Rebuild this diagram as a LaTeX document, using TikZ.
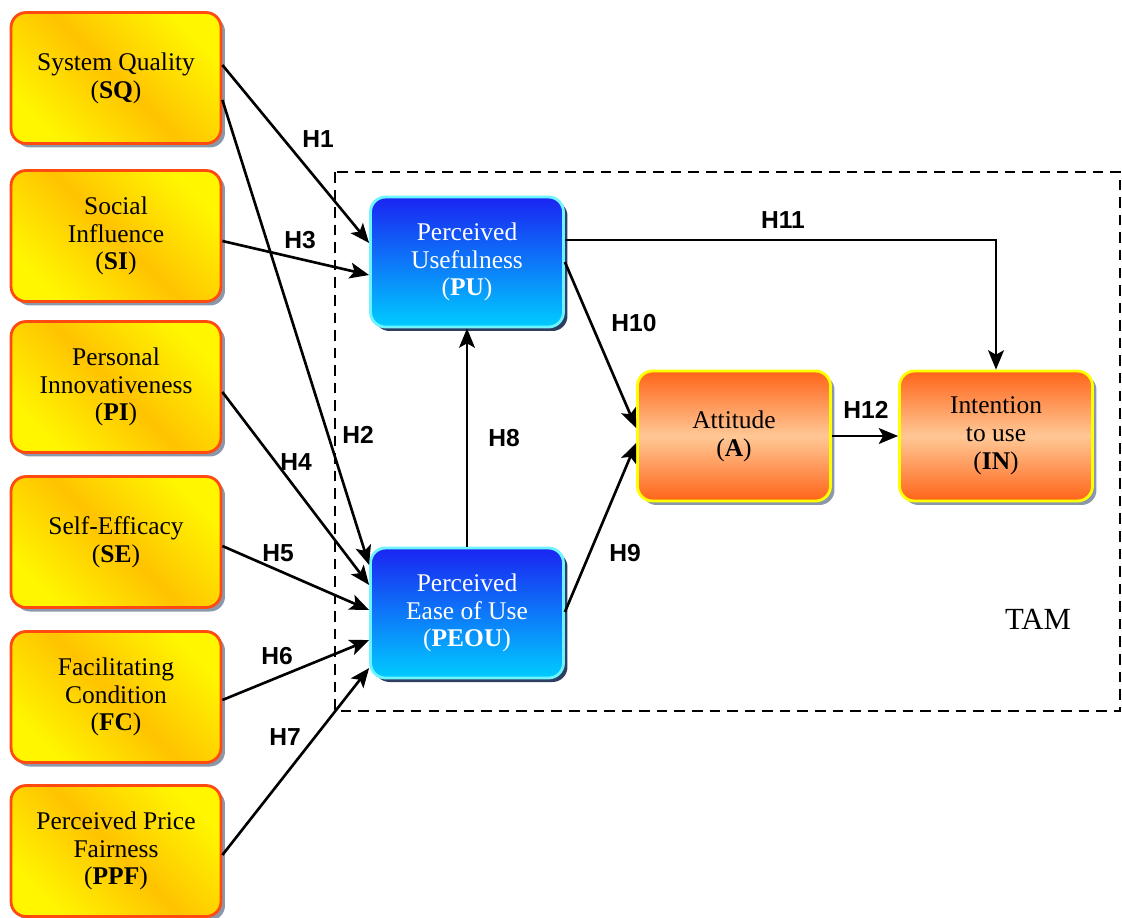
\documentclass[tikz,border=0pt]{standalone}
\usepackage{fontspec}
\setmainfont{Liberation Serif}
\newfontfamily\hfont{Liberation Sans}
\usetikzlibrary{shadows,arrows.meta,calc}

\definecolor{ylwA}{HTML}{FFF600}
\definecolor{ylwB}{HTML}{FFC300}
\definecolor{ylwEdge}{HTML}{FF4A10}
\definecolor{bluTop}{HTML}{1A24F2}
\definecolor{bluBot}{HTML}{00CCFF}
\definecolor{bluEdge}{HTML}{6EF4FF}
\definecolor{orgA}{HTML}{FF6418}
\definecolor{orgB}{HTML}{FFC896}
\definecolor{orgEdge}{HTML}{FFFF00}
\definecolor{shdGray}{HTML}{8A98AC}
\definecolor{shdNavy}{HTML}{2E3E62}

\tikzset{
  box/.style={rounded corners=0.3cm, line width=1.6pt, align=center,
    font=\fontsize{14.5}{15.8}\selectfont, inner sep=2pt},
  extbox/.style={box, draw=ylwEdge, minimum width=4.2cm, minimum height=2.62cm,
    top color=ylwA, bottom color=ylwA, middle color=ylwB, shading angle=-45,
    drop shadow={shadow xshift=0.08cm, shadow yshift=-0.08cm, fill=shdGray, opacity=1}},
  tambox/.style={box, draw=bluEdge, text=white, minimum width=3.86cm, minimum height=2.6cm,
    top color=bluTop, bottom color=bluBot,
    drop shadow={shadow xshift=0.08cm, shadow yshift=-0.08cm, fill=shdNavy, opacity=1}},
  outbox/.style={box, draw=orgEdge, minimum width=3.86cm, minimum height=2.6cm,
    top color=orgA, bottom color=orgA, middle color=orgB,
    drop shadow={shadow xshift=0.08cm, shadow yshift=-0.08cm, fill=shdGray, opacity=1}},
  link/.style={line width=1.5pt, -{Stealth[length=11pt,width=9pt,inset=2.5pt]}},
  hyp/.style={font=\hfont\bfseries\fontsize{14}{16}\selectfont, inner sep=1pt},
}

\begin{document}
\begin{tikzpicture}[x=0.02cm,y=-0.02cm]
\useasboundingbox (0,0) rectangle (1122,917);

% TAM frame
\draw[dashed, line width=1pt, dash pattern=on 6pt off 4pt] (335,172) rectangle (1120,711);
\node[font=\fontsize{17.5}{20}\selectfont] (tam) at (1038,619) {TAM};

% external factors
\node[extbox] (SQ)  at (116,78)  {System Quality\\(\textbf{SQ})};
\node[extbox] (SI)  at (116,236) {Social\\Influence\\(\textbf{SI})};
\node[extbox] (PI)  at (116,387) {Personal\\Innovativeness\\(\textbf{PI})};
\node[extbox] (SE)  at (116,542) {Self-Efficacy\\(\textbf{SE})};
\node[extbox] (FC)  at (116,697) {Facilitating\\Condition\\(\textbf{FC})};
\node[extbox] (PPF) at (116,851) {Perceived Price\\Fairness\\(\textbf{PPF})};

% TAM constructs
\node[tambox] (PU)   at (467,262) {Perceived\\Usefulness\\(\textbf{PU})};
\node[tambox] (PEOU) at (467,613) {Perceived\\Ease of Use\\(\textbf{PEOU})};
\node[outbox] (A)    at (734,436) {Attitude\\(\textbf{A})};
\node[outbox] (IN)   at (996,436) {Intention\\to use\\(\textbf{IN})};

% hypotheses paths
\draw[link] ($(SQ.east)+(0,-13)$) -- ($(PU.west)+(0,-19)$);
\draw[link] ($(SQ.east)+(0,22)$)  -- ($(PEOU.west)+(0,-48)$);
\draw[link] ($(SI.east)+(0,5)$)   -- ($(PU.west)+(0,13)$);
\draw[link] ($(PI.east)+(0,5)$)   -- ($(PEOU.west)+(0,-28)$);
\draw[link] ($(SE.east)+(0,4)$)   -- ($(PEOU.west)+(0,-3)$);
\draw[link] ($(FC.east)+(0,3)$)   -- ($(PEOU.west)+(0,27)$);
\draw[link] ($(PPF.east)+(0,4)$)  -- ($(PEOU.west)+(0,55)$);
\draw[link] (PEOU.north) -- (PU.south);
\draw[link] ($(PEOU.east)+(0,-1)$) -- ($(A.west)+(0,7)$);
\draw[link] (PU.east) -- ($(A.west)+(0,-8)$);
\draw[link] ($(PU.east)+(0,-22)$) -| (IN.north);
\draw[link] (A.east) -- (IN.west);

% hypothesis labels
\node[hyp] (h1)  at (318,139) {H1};
\node[hyp] (h2)  at (358,435) {H2};
\node[hyp] (h3)  at (300,240) {H3};
\node[hyp] (h4)  at (296,462) {H4};
\node[hyp] (h5)  at (278,553) {H5};
\node[hyp] (h6)  at (277,656) {H6};
\node[hyp] (h7)  at (285,737) {H7};
\node[hyp] (h8)  at (504,438) {H8};
\node[hyp] (h9)  at (625,553) {H9};
\node[hyp] (h10) at (634,323) {H10};
\node[hyp] (h11) at (783,220) {H11};
\node[hyp] (h12) at (866,410) {H12};
\end{tikzpicture}
\end{document}
